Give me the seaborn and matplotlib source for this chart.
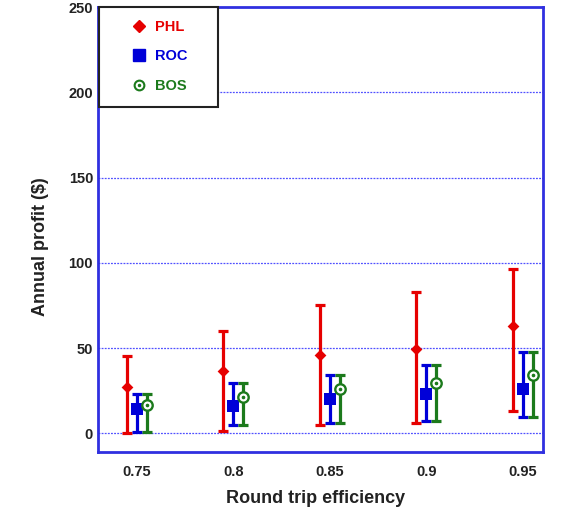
import matplotlib
matplotlib.use("Agg")
import matplotlib.pyplot as plt
import seaborn as sns
import numpy as np
import pandas as pd
from matplotlib.lines import Line2D
from matplotlib.patches import Rectangle
from matplotlib.legend_handler import HandlerTuple

# ---- data ----
efficiency = ["0.75", "0.8", "0.85", "0.9", "0.95"]
phl_mean = [27.3, 36.5, 45.7, 49.6, 63.1]
phl_low = [0.0, 1.2, 4.9, 6.2, 13.3]
phl_high = [45.3, 59.9, 75.4, 82.8, 96.5]
roc_mean = [14.5, 16.0, 19.9, 22.8, 25.8]
roc_low = [1.0, 5.1, 6.2, 7.4, 9.8]
roc_high = [23.2, 29.3, 34.0, 40.2, 47.6]
bos_mean = [16.4, 21.5, 25.8, 29.5, 34.4]
bos_low = [1.0, 5.1, 6.2, 7.4, 9.8]
bos_high = [23.2, 29.3, 34.0, 40.2, 47.6]
series_names = ["PHL", "ROC", "BOS"]
yticks = [0, 50, 100, 150, 200, 250]

sns.set_theme(style="white")
plt.rcParams['font.family'] = ['Liberation Sans', 'DejaVu Sans']

fig = plt.figure(figsize=(5.62, 5.08), dpi=100)
ax = fig.add_axes([0.1744, 0.110, 0.7916, 0.876])

colors = {"PHL": "#e60000", "ROC": "#0000d8", "BOS": "#1c7a1c"}
offsets = {"PHL": -0.104, "ROC": 0.0, "BOS": 0.104}
data = {"PHL": (phl_mean, phl_low, phl_high),
        "ROC": (roc_mean, roc_low, roc_high),
        "BOS": (bos_mean, bos_low, bos_high)}
markers = {"PHL": "D", "ROC": "s", "BOS": "o"}
msizes = {"PHL": 6, "ROC": 8, "BOS": 7.5}

xs = np.arange(len(efficiency))
for name in series_names:
    m, lo, hi = (np.array(v) for v in data[name])
    x = xs + offsets[name]
    ax.errorbar(x, m, yerr=[m - lo, hi - m], fmt='none', ecolor=colors[name],
                elinewidth=2.3, capsize=3.6, capthick=2.3, zorder=3)
    if name == "BOS":
        ax.plot(x, m, linestyle='none', marker='o', ms=msizes[name],
                mfc='white', mec=colors[name], mew=1.7, zorder=4)
        ax.plot(x, m, linestyle='none', marker='o', ms=1.6,
                mfc=colors[name], mec=colors[name], zorder=5)
    else:
        df = pd.DataFrame({"x": x, "y": m})
        sns.scatterplot(data=df, x="x", y="y", ax=ax, marker=markers[name],
                        s=msizes[name] ** 2, color=colors[name],
                        edgecolor=colors[name], linewidth=0, zorder=4)

ax.set_xlim(-0.405, 4.21)
ax.set_ylim(-11, 250)
ax.set_xticks(xs)
ax.set_xticklabels(efficiency)
ax.set_yticks(yticks)
ax.set_yticklabels([str(v) for v in yticks])
for lab in ax.get_xticklabels() + ax.get_yticklabels():
    lab.set_fontweight('bold')
    lab.set_fontsize(10.5)
    lab.set_color('#222222')
ax.tick_params(axis='both', length=0)
ax.tick_params(axis='x', pad=9)
ax.tick_params(axis='y', pad=3.6)

for y in yticks[:-1]:
    ax.axhline(y, color='#5050ff', linestyle=(0, (1.5, 1)), linewidth=0.9, zorder=1)

for sp in ax.spines.values():
    sp.set_color('#3030e0')
    sp.set_linewidth(2)
    sp.set_visible(True)

ax.set_xlabel("Round trip efficiency", fontsize=13, fontweight='bold', color='#222222')
ax.set_ylabel("Annual profit ($)", fontsize=13, fontweight='bold', color='#222222')
ax.xaxis.set_label_coords(0.489, -0.085)
ax.yaxis.set_label_coords(-0.110, 0.461)

# legend box
box = Rectangle((0.003, 0.775), 0.267, 0.225, transform=ax.transAxes,
                facecolor='white', edgecolor='#222222', linewidth=1.5,
                zorder=9, clip_on=False)
ax.add_patch(box)

handles = [
    Line2D([], [], linestyle='none', marker='D', ms=6.2, mfc=colors["PHL"], mec=colors["PHL"]),
    Line2D([], [], linestyle='none', marker='s', ms=8, mfc=colors["ROC"], mec=colors["ROC"]),
    (Line2D([], [], linestyle='none', marker='o', ms=7, mfc='white', mec=colors["BOS"], mew=1.5),
     Line2D([], [], linestyle='none', marker='o', ms=1.5, mfc=colors["BOS"], mec=colors["BOS"])),
]
leg = ax.legend(handles, series_names, loc='upper left', bbox_to_anchor=(0.0757, 0.971),
                frameon=False, borderpad=0.0, labelspacing=1.05, handletextpad=0.62,
                borderaxespad=0.0, prop={'weight': 'bold', 'size': 10.5},
                handlelength=1.0, handler_map={tuple: HandlerTuple(ndivide=1, pad=0)})
leg.set_zorder(10)
for txt, name in zip(leg.get_texts(), series_names):
    txt.set_color(colors[name])

fig.savefig("out.png", dpi=100)
